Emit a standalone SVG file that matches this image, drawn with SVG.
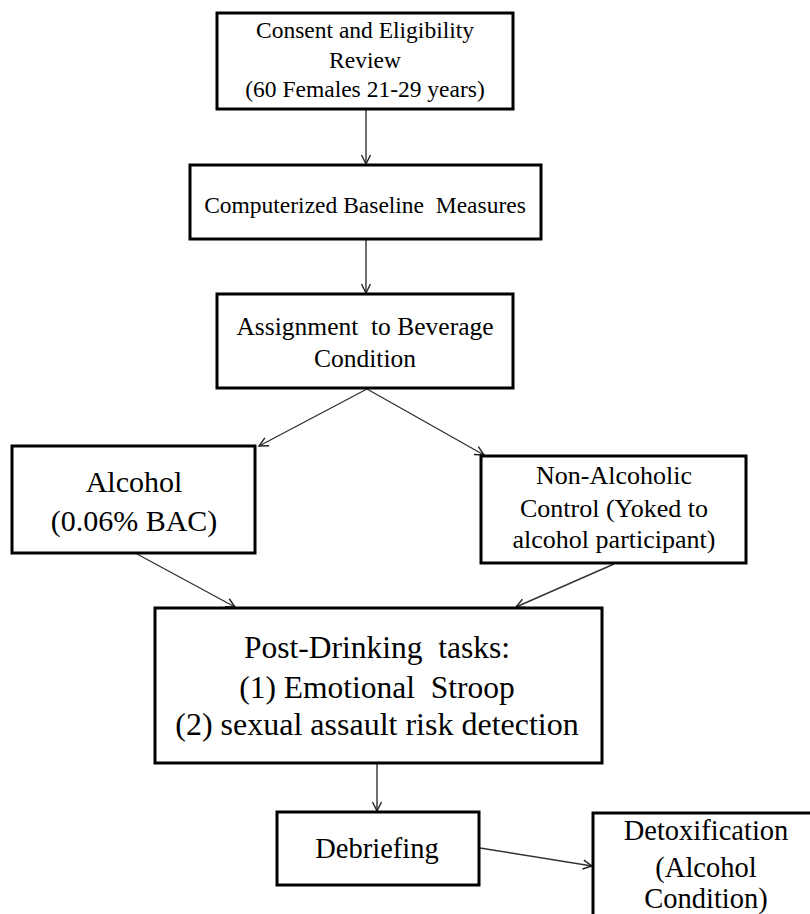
<svg xmlns="http://www.w3.org/2000/svg" width="810" height="914" viewBox="0 0 810 914">
<defs>
<marker id="arr" markerUnits="userSpaceOnUse" markerWidth="12" markerHeight="12" refX="10" refY="6" orient="auto" viewBox="0 0 12 12">
<path d="M1,1.5 L10,6 L1,10.5" fill="none" stroke="#222" stroke-width="1.4"/>
</marker>
</defs>
<style>
.box{fill:#fff;stroke:#000;stroke-width:3}
.t{font-family:'Liberation Serif','Times New Roman',serif;fill:#000;text-anchor:middle}
.c{stroke:#333;stroke-width:1.4;fill:none;marker-end:url(#arr)}
</style>
<rect width="810" height="914" fill="#fff"/>
<g id="connectors">
<line class="c" x1="366" y1="110" x2="366" y2="164"/>
<line class="c" x1="366" y1="240" x2="366" y2="293"/>
<line class="c" x1="367" y1="389" x2="259" y2="446"/>
<line class="c" x1="367" y1="389" x2="484" y2="455"/>
<line class="c" x1="137" y1="554" x2="235" y2="607"/>
<line class="c" x1="614" y1="564" x2="516" y2="607"/>
<line class="c" x1="377" y1="764" x2="377" y2="811"/>
<line class="c" x1="480" y1="848" x2="592" y2="866"/>
</g>
<g id="consent">
<rect class="box" x="217" y="13" width="296" height="96"/>
<text class="t" x="365" y="38" font-size="23.5">Consent and Eligibility</text>
<text class="t" x="365" y="68" font-size="23.5">Review</text>
<text class="t" x="365" y="97" font-size="23.5">(60 Females 21-29 years)</text>
</g>
<g id="baseline">
<rect class="box" x="190" y="165" width="351" height="74"/>
<text class="t" x="365" y="213" font-size="23.5" xml:space="preserve">Computerized Baseline  Measures</text>
</g>
<g id="assignment">
<rect class="box" x="217" y="294" width="296" height="94"/>
<text class="t" x="365" y="335" font-size="25.5" xml:space="preserve">Assignment  to Beverage</text>
<text class="t" x="365" y="367" font-size="25.5">Condition</text>
</g>
<g id="alcohol">
<rect class="box" x="12" y="446" width="243" height="107"/>
<text class="t" x="134" y="492" font-size="30">Alcohol</text>
<text class="t" x="134" y="531" font-size="30">(0.06% BAC)</text>
</g>
<g id="nonalcoholic">
<rect class="box" x="481" y="456" width="265" height="107"/>
<text class="t" x="614" y="484" font-size="26">Non-Alcoholic</text>
<text class="t" x="614" y="517" font-size="26">Control (Yoked to</text>
<text class="t" x="614" y="548" font-size="26">alcohol participant)</text>
</g>
<g id="postdrinking">
<rect class="box" x="155" y="608" width="447" height="155"/>
<text class="t" x="377" y="658" font-size="31.5" xml:space="preserve">Post-Drinking  tasks:</text>
<text class="t" x="377" y="698" font-size="31.5" xml:space="preserve">(1) Emotional  Stroop</text>
<text class="t" x="377" y="735" font-size="32">(2) sexual assault risk detection</text>
</g>
<g id="debriefing">
<rect class="box" x="277" y="812" width="202" height="73"/>
<text class="t" x="377" y="858" font-size="28.5">Debriefing</text>
</g>
<g id="detoxification">
<rect class="box" x="593" y="813" width="240" height="130"/>
<text class="t" x="706" y="840" font-size="28.5">Detoxification</text>
<text class="t" x="706" y="877" font-size="28.5">(Alcohol</text>
<text class="t" x="706" y="908" font-size="28.5">Condition)</text>
</g>
</svg>
